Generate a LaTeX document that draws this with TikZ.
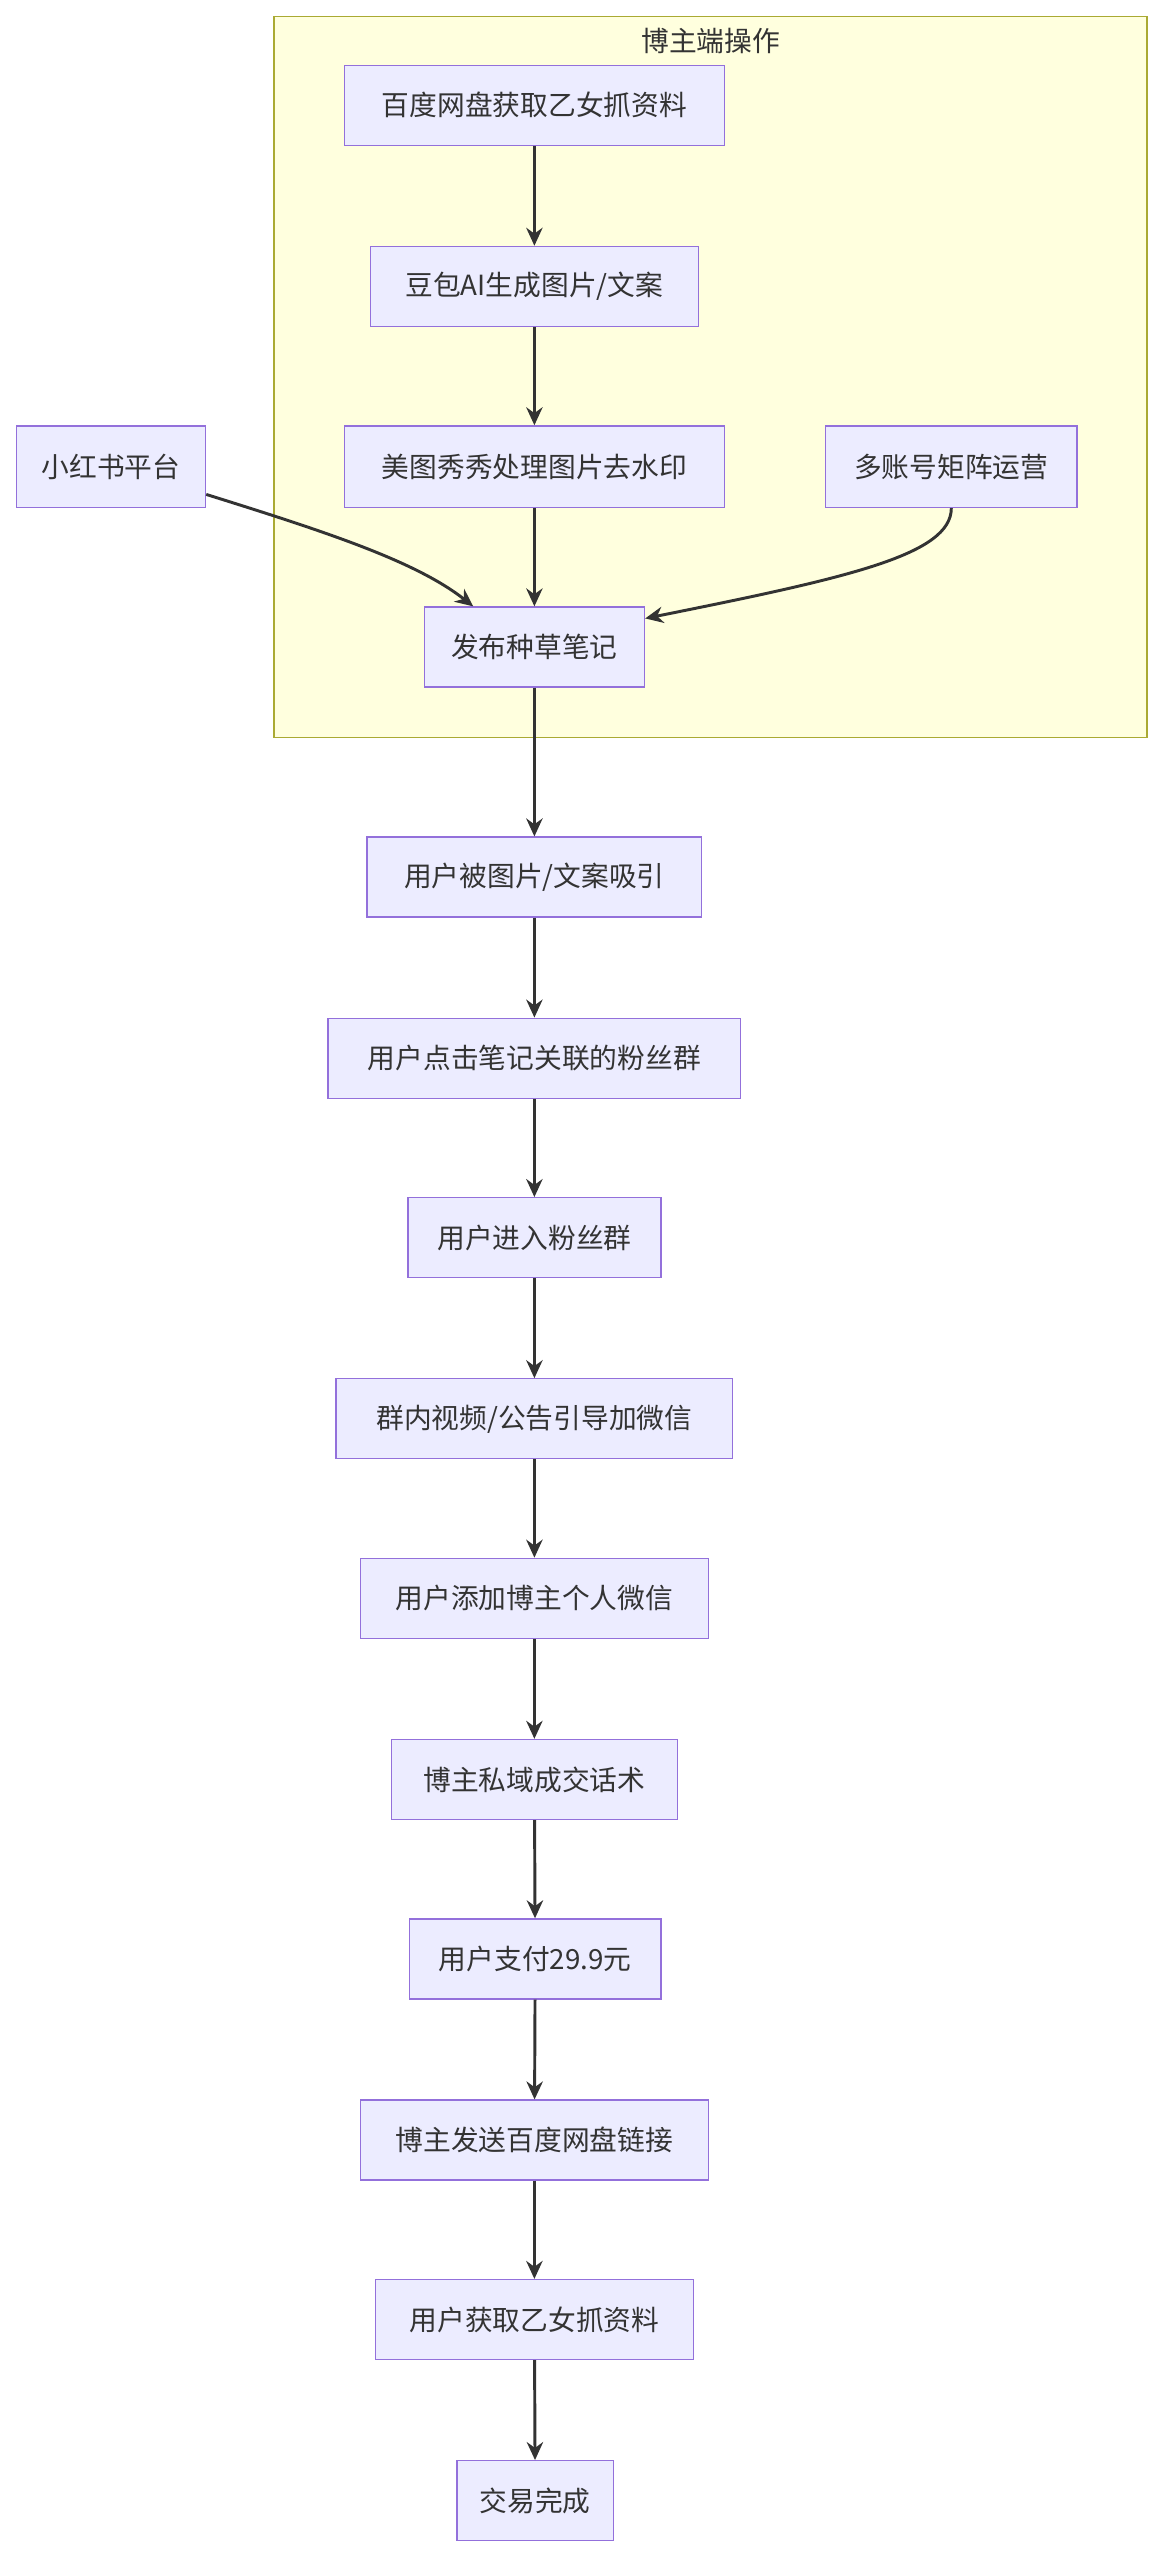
\documentclass[tikz,border=0pt]{standalone}
\usepackage{fontspec}
\setmainfont{Noto Sans CJK SC}
\usetikzlibrary{arrows.meta}
\definecolor{nfill}{HTML}{ECECFF}
\definecolor{nline}{HTML}{9370DB}
\definecolor{cfill}{HTML}{FFFFDE}
\definecolor{cline}{HTML}{AAAA33}
\definecolor{arr}{HTML}{333333}
\begin{document}
\begin{tikzpicture}[x=1pt,y=-1pt,
  box/.style={draw=nline,fill=nfill,line width=0.8pt,font=\fontsize{17}{20}\selectfont,text=arr,inner sep=0pt},
  ar/.style={draw=arr,line width=1.8pt,-{Stealth[length=11pt,width=10pt]}}]
\useasboundingbox (0,0) rectangle (716,1575);
\fill[white] (0,0) rectangle (716,1575);
\draw[cline,fill=cfill,line width=0.8pt] (168,10) rectangle (703,452);
\node[font=\fontsize{17}{20}\selectfont,text=arr] (t) at (435.5,25) {博主端操作};
\newcommand{\bx}[6]{\node[box,minimum width=#4-#3,minimum height=#6-#5] (#1) at ({(#3+#4)/2},{(#5+#6)/2}) {#2};}
\bx{a}{百度网盘获取乙女抓资料}{211}{444}{40}{89}
\bx{b}{豆包AI生成图片/文案}{227}{428}{151}{200}
\bx{c}{美图秀秀处理图片去水印}{211}{444}{261}{311}
\bx{d}{多账号矩阵运营}{506}{660}{261}{311}
\bx{x}{小红书平台}{10}{126}{261}{311}
\bx{p}{发布种草笔记}{260}{395}{372}{421}
\bx{n1}{用户被图片/文案吸引}{225}{430}{513}{562}
\bx{n2}{用户点击笔记关联的粉丝群}{201}{454}{624}{673}
\bx{n3}{用户进入粉丝群}{250}{405}{734}{783}
\bx{n4}{群内视频/公告引导加微信}{206}{449}{845}{894}
\bx{n5}{用户添加博主个人微信}{221}{434}{955}{1004}
\bx{n6}{博主私域成交话术}{240}{415}{1066}{1115}
\bx{n7}{用户支付29.9元}{251}{405}{1176}{1225}
\bx{n8}{博主发送百度网盘链接}{221}{434}{1287}{1336}
\bx{n9}{用户获取乙女抓资料}{230}{425}{1397}{1446}
\bx{n10}{交易完成}{280}{376}{1508}{1557}
\draw[ar] (a) -- (b);
\draw[ar] (b) -- (c);
\draw[ar] (c) -- (p);
\draw[ar] (x.east|-0,303) .. controls (200,326) and (255,344) .. (p.north west-|290,0);
\draw[ar] (d.south) .. controls (583,340) and (520,354) .. (p.east|-0,379);
\draw[ar] (p) -- (n1);
\foreach \u/\v in {n1/n2,n2/n3,n3/n4,n4/n5,n5/n6,n6/n7,n7/n8,n8/n9,n9/n10} \draw[ar] (\u) -- (\v);
\end{tikzpicture}
\end{document}
